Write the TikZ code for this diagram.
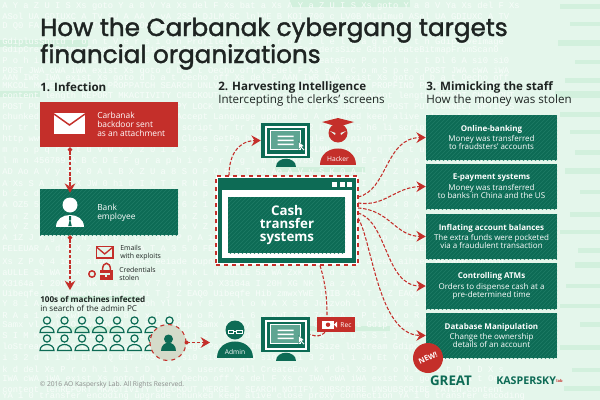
\documentclass[tikz,border=0pt]{standalone}
\usepackage{fontspec}
\setmainfont{Open Sans}
\setmonofont{Liberation Mono}
\newfontfamily\titlefont[FakeBold=1.6]{Poppins}
\usetikzlibrary{arrows.meta,calc,patterns}
\definecolor{paper}{HTML}{E4F6EB}
\definecolor{glyph}{HTML}{F8FDFA}
\definecolor{band}{HTML}{D2F0DD}
\definecolor{teal}{HTML}{0D6B55}
\definecolor{tealhatch}{HTML}{1F7C66}
\definecolor{tealsoft}{HTML}{5FA592}
\definecolor{alert}{HTML}{C42F2A}
\definecolor{ink}{HTML}{1E2422}
\newcommand{\px}{.75pt}
\tikzset{
	tealbox/.style={fill=teal,postaction={pattern=north east lines,pattern color=tealhatch},inner sep=0pt},
	redbox/.style={fill=alert,inner sep=0pt},
	infotext/.style={text=white,align=center,font=\fontsize{6}{6.1}\selectfont,inner sep=0pt},
	lefttext/.style={align=left,anchor=west,inner sep=0pt,text=ink},
	titletext/.style={anchor=base west,inner sep=0pt,text=ink,font=\fontsize{18.5}{20}\titlefont},
	stepnote/.style={lefttext,font=\fontsize{8.7}{10}\selectfont},
	smallnote/.style={lefttext,font=\fontsize{5.2}{6.2}\selectfont},
	redlink/.style={alert,thick,dashed,dash pattern=on 2.6pt off 1.3pt},
	tipped/.style={redlink,-{Stealth[length=7pt,width=8pt,inset=2.4pt,sep=0pt]}},
	dotted start/.style={{Circle[length=3.4pt]}-{Stealth[length=7pt,width=8pt,inset=2.4pt]}},
	staff/.pic={
		\draw[teal,line width=.9pt] (0,-4.5) circle (3.6);
		\draw[teal,line width=.9pt] (-7,7.5) .. controls (-7,-.5) and (7,-.5) .. (7,7.5) -- cycle;
	},
}
\newcommand{\screenicon}[1]{
	\begin{scope}[shift={(#1.center)}]
		\fill[white] (-21,-15) rectangle (21,15);
		\fill[teal] (-19,-13) rectangle (19,13);
		\fill[tealsoft,draw=white,line width=.8pt] (-15,-10) rectangle (15,9);
		\fill[white] (-8,-5) rectangle (8,-3.4) (-8,-1) rectangle (8,.6) (-8,3) rectangle (8,4.6);
		\fill[white,draw=teal,line width=.2pt] (13,1) -- (13,9) -- (15,7) -- (18,10) -- (19,9) -- (16.5,6.3) -- (18.5,5.5) -- cycle;
		\fill[teal] (-10,26) .. controls (-10,15.5) and (10,15.5) .. (10,26) -- cycle;
	\end{scope}
}
\begin{document}
\begin{tikzpicture}[x=\px,y=-\px]
	\useasboundingbox (0,0) rectangle (600,400);
	% background
	\fill[paper] (0,0) rectangle (600,400);
	\foreach \bandy/\bandx/\bandw/\bandh in {0/290/120/7, 40/0/88/7, 91/0/40/6, 167/275/90/5, 296/60/80/6, 326/70/50/6, 326/300/90/5}
		\fill[band] (\bandx,\bandy) rectangle ++(\bandw,\bandh);
	\foreach \liney/\linetext [count=\linei] in {
		6/A Y a Z U I S Xs goto Y a 8 V Ya Xs del F Xs bat a Xs A Y a Z U I S Xs goto Y a 8 V Ya Xs del F Xs,
		16/ASol UA GDIUXC A TV 9U A AA A vA 2SSC DJLM SC lnlME B KOI 700 c LV0B MLuImu0 ASol UA GDIUXC A TV,
		26/D Q0 FA TOTxH Y WTxHnP ZG OK xG NK 8 1Z2A z z5v0i A A U RS 8 n H C D Q0 FA TOTxH Y WTxHnP ZG OK,
		42/GdiplusShutd r o n t V e r s i o n Profilelist Xs P r o f i l e l m a g e P a t h GdipSaveImage,
		50/GdipCreateBitmapFromScan0 GdipSaveImageToStream GetImageEncodersSize GdipCreateBitmapFromScan0,
		60/P o h i b i t Dl 6 A si0 si0 6A si0 si0 si0 A userenv dll CreateEnv P o h i b i t Dl 6 A si0 si0,
		71/POST JWA cWA iWA exist Xs goto d b a t Oecho off Xs del F Xs c Xs C o m S p e c POST JWA cWA iWA,
		78/AAN IWR IWA exist Xs goto d b a t Oecho off Xs del F AAN IWR IWA exist Xs goto d b a t Oecho off,
		86/MKCOL MOVE PROPFIND PROPPATCH SEARCH UNLVA DELETE GET HEAD MKCOL MOVE PROPFIND PROPPATCH SEARCH,
		96/content length REPORT MKACTIVITY CHECKOUT Transfer Encoding Accept content length REPORT CHECKOUT,
		107/POST PUT CONNECT OPTIONS TRACE COPY LOCK MERGE M SEARCH NOTIFY SUBSCRIBE POST PUT CONNECT OPTIONS,
		117/chunked keep alive close A A A A Accept Language upgrade U A chunked keep alive close A A A A,
		128/hr tr td div h1 h2 h3 h4 h5 h6 li script hr tr td div h1 h2 h3 h4 h5 h6 li script hr tr td div,
		139/http www google com ping HTTP 1 1 Close GetPa http www google com ping HTTP 1 1 Close GetPa http,
		150/m n o p q r s t u v w x y z 0 1 2 3 4 5 6 7 8 9 ABCDEFGHIJKLMN m n o p q r s t u v w x y z 0 1 2,
		161/l m n 456789 A B C D E F g r a p h i c P r o g l m n 456789 A B C D E F g r a p h i c P r o g,
		172/AD Ao A V y S K 0 A L B X Z U a 8 S O P Q R S T AD Ao A V y S K 0 A L B X Z U a 8 S O P Q R S T,
		183/A Xs S A Ji A X JW 0 hi D I N T E R N E T A Xs S A Ji A X JW 0 hi D I N T E R N E T A Xs S A Ji,
		194/b 2 c d a f 9 B A W J X K 8 1 k m n o p Q R b 2 c d a f 9 B A W J X K 8 1 k m n o p Q R b 2 c d,
		205/A OZ5 5 j a B 9 Y A J S X 0 9 4 8 6 2 1 t Y A OZ5 5 j a B 9 Y A J S X 0 9 4 8 6 2 1 t Y A OZ5 5,
		216/r n Z o U S 2 A c V D a d B 3 M r n Z o U S 2 A c V D a d B 3 M r n Z o U S 2 A c V D a d B 3 M,
		227/x V Z o n k 0 r a g K A M A 7 3 L x V Z o n k 0 r a g K A M A 7 3 L x V Z o n k 0 r a g K A M,
		238/A 1Z J K g H A N B 8 6 V C s d O P p A 1Z J K g H A N B 8 6 V C s d O P p A 1Z J K g H A N B 8 6,
		249/FELEUAR A d S X Z Y a g 1 A T A 3 5 8 FELEUAR A d S X Z Y a g 1 A T A 3 5 8 FELEUAR A d S X Z Y,
		262/Xs Z P Q 4 ieoa aleed aihtee eeiade Oupntb Qu0 Uiiim Xs Z P Q 4 ieoa aleed aihtee eeiade Oupntb,
		272/aULLE 5a WA ZxK n i d a e A F O 3 H k L N aULLE 5a WA ZxK n i d a e A F O 3 H k L N aULLE 5a WA,
		283/X3164a I 20H XG NK Y a z A V 7 6 N R C b X3164a I 20H XG NK Y a z A V 7 6 N R C b X3164a I 20H,
		294/Uibeqfe Hib zmwxYWE IHIB X4i T j Z EAQ0 Uibeqfe Hib zmwxYWE IHIB X4i T j Z EAQ0 Uibeqfe Hib,
		304/Y 8 i A l o N A X S 6 Juqzvoh Yl b w Y 8 i A l o N A X S 6 Juqzvoh Yl b w Y 8 i A l o N A X S 6,
		316/R A a 1 6 x KwI I S 7e 8 A x P t g w o R A a 1 6 x KwI I S 7e 8 A x P t g w o R A a 1 6 x KwI I,
		325/Samx vl Pyl xO vwxcOd 0 31 B Ji Gdip Samx vl Pyl xO vwxcOd 0 31 B Ji Gdip Samx vl Pyl xO vwxcOd,
		336/S I M K d a 1 W Gw8 w W i 0 u S S 1 j S I M K d a 1 W Gw8 w W i 0 u S S 1 j S I M K d a 1 W Gw8,
		347/loStream GdipCreateBitmapFromGdi Image Path GetImageEncodersSize loStream GdipCreateBitmapFromGdi,
		358/i 3 2 d l i Ju Et Y Q GET POST JA si0 si0 6A si0 si0 6A i 3 2 d l i Ju Et Y Q GET POST JA si0,
		369/k d del Xs P r o h i b i t D l D X s userenv dll CreateEnv k d del Xs P r o h i b i t D l D X s,
		379/IWA cWA iWA exist Xs goto d b a t Oecho off Xs del F Xs c IWA cWA iWA exist Xs goto d b a t Oecho,
		389/content lenREPORT MKACTIVITY CHECKOUT MERGE M SEARCH NOTIFY SUBSCRIBE UNSUBSCRIBE PATCH content,
		396/YA 1 0 transfer encoding upgrade chunked keep alive close proxy connection YA 1 0 transfer encoding
	}
		\node[anchor=west,inner sep=0pt,text=glyph,font=\ttfamily\fontsize{6.6}{7}\selectfont] (bgline\linei) at (2,\liney) {\linetext};
	\foreach \bandy/\bandw/\bandh in {4/40/5, 22/30/4, 40/42/6, 60/25/4, 78/35/5, 91/45/7, 112/40/5, 130/30/4, 150/25/5, 168/35/6, 190/20/4, 212/30/5, 230/40/4, 248/22/5, 262/25/6, 284/34/4, 304/40/4, 322/20/5, 345/40/5, 368/28/4, 386/36/5}
		\fill[band] (600-\bandw,\bandy) rectangle ++(\bandw,\bandh);

	% headings
	\node[titletext] (titleone) at (40,36) {How the Carbanak cybergang targets};
	\node[titletext] (titletwo) at (40,63) {financial organizations};
	\node[stepnote] (stepone) at (40,87.5) {\bfseries 1. Infection};
	\node[stepnote] (steptwo) at (218,87.5) {\bfseries 2. Harvesting Intelligence};
	\node[stepnote] (steptwosub) at (218,100) {Intercepting the clerks' screens};
	\node[stepnote] (stepthree) at (426,87.5) {\bfseries 3. Mimicking the staff};
	\node[stepnote] (stepthreesub) at (426,100) {How the money was stolen};

	% column one
	\node[redbox,minimum width=138*\px,minimum height=45*\px] (backdoor) at (109,124.5) {};
	\fill[white] (54,113) rectangle (85,134);
	\draw[alert,line width=1.1pt] (54,114) -- (69.5,125) -- (85,114);
	\node[lefttext,text=white,font=\fontsize{6.3}{6.8}\selectfont] (backdoortext) at (97,124) {Carbanak\\backdoor sent\\as an attachment};
	\node[tealbox,minimum width=138*\px,minimum height=46*\px] (employee) at (109,212) {};
	\fill[white] (70,205) circle (7.5);
	\fill[white] (56,227) .. controls (56,211) and (84,211) .. (84,227) -- cycle;
	\fill[teal] (69,216) rectangle (71,220) (70,219) -- (71.8,226) -- (68.2,226) -- cycle;
	\node[lefttext,text=white,font=\fontsize{6.3}{6.8}\selectfont] (employeetext) at (97,212.5) {Bank\\employee};
	\coordinate (backdoorout) at (backdoor.south -| 70,0);
	\coordinate (employeein) at (employee.north -| 70,0);
	\coordinate (employeeout) at (employee.south -| 70,0);
	\coordinate (machinesin) at (70,290);
	\draw[tipped,dotted start] (backdoorout) -- ($(employeein)+(0,4)$);
	\draw[tipped,dotted start] (employeeout) -- (machinesin);

	\draw[alert,line width=1pt,fill=paper] (96.5,246.5) rectangle (113,258);
	\draw[alert,line width=1pt] (96.5,247) -- (104.7,254) -- (113,247);
	\node[smallnote] (exploits) at (120,252.5) {Emails\\with exploits};
	\fill[alert] (100,270) rectangle (113,280);
	\draw[alert,line width=1.1pt] (102.5,270) .. controls (102.5,261) and (110.5,261) .. (110.5,270);
	\draw[alert,line width=1.1pt,fill=paper] (92,274) circle (3.2);
	\draw[paper,line width=.8pt] (96,274) -- (110,274) (106,274) -- (106,277);
	\node[smallnote] (stolen) at (119,274) {Credentials\\stolen};
	\node[lefttext,font=\fontsize{6.1}{7}\bfseries\selectfont] (machines) at (40,299) {100s of machines infected};
	\node[lefttext,font=\fontsize{6.1}{7}\selectfont] (search) at (40,308) {in search of the admin PC};

	\foreach \staffx in {47,64.5,82,99.5,117,134.5,152,169.5}
		\pic at (\staffx,325) {staff};
	\foreach \staffx in {47,64.5,82,99.5,117,134.5,152}
		\pic at (\staffx,343) {staff};
	\node[circle,fill=black!6!paper!88!brown,draw=alert,thick,dashed,minimum size=36*\px,inner sep=0pt] (adminpc) at (168,342.5) {};
	\fill[teal] (168.5,339) circle (4.5);
	\fill[teal] (161,351) .. controls (161,340) and (176,340) .. (176,351) -- cycle;
	\node[lefttext,text=black!45,font=\fontsize{5}{6}\selectfont] (copyright) at (39.5,384.5) {© 2016 AO Kaspersky Lab. All Rights Reserved.};

	% column two
	\node[inner sep=0pt,draw=alert,thick,dashed,fill=white,minimum width=142*\px,minimum height=89*\px] (cashwindow) at (287,220.5) {};
	\fill[teal] (218,178) rectangle (356,263);
	\fill[white] (222,190) rectangle (352,258);
	\foreach \dotx in {334,342,349}
		\fill[white] (\dotx-2.5,181.5) rectangle (\dotx+2.5,186.5);
	\node[tealbox,minimum width=117*\px,minimum height=56*\px] (cashcore) at (286.5,225) {};
	\node[text=white,align=center,inner sep=0pt,font=\fontsize{10}{10}\selectfont] (cashtext) at (287,225) {\textbf{Cash}\\\textbf{transfer}\\\textbf{systems}};

	\node[fill=teal,inner sep=0pt,minimum width=49*\px,minimum height=35*\px] (clerkscreen) at (285.5,140.5) {};
	\screenicon{clerkscreen}
	\node[fill=teal,inner sep=0pt,minimum width=49*\px,minimum height=35*\px] (adminscreen) at (285.5,334.5) {};
	\screenicon{adminscreen}

	\node[circle,fill=alert,minimum size=19*\px,inner sep=0pt] (hackerhead) at (338,133) {};
	\fill[alert] (322,122) -- (338,118) -- (354,122) -- (338,127) -- cycle;
	\fill[paper] (330,131) -- (335.5,133) -- (335,135) -- cycle (346,131) -- (340.5,133) -- (341,135) -- cycle;
	\fill[alert] (320,165) .. controls (320,143) and (356,143) .. (356,165) -- cycle;
	\node[text=white,inner sep=0pt,font=\fontsize{5}{6}\selectfont] (hackerlabel) at (338,158.5) {Hacker};

	\node[circle,fill=teal,minimum size=19*\px,inner sep=0pt] (adminhead) at (235,330) {};
	\draw[white,line width=.7pt] (228,330) rectangle (233.5,333) (236.5,330) rectangle (242,333) (233.5,331) -- (236.5,331);
	\fill[teal] (217,358) .. controls (217,336) and (253,336) .. (253,358) -- cycle;
	\node[text=white,inner sep=0pt,font=\fontsize{5}{6}\selectfont] (adminlabel) at (235,352) {Admin};

	\node[redbox,minimum width=38*\px,minimum height=15*\px] (recbox) at (336,324.5) {};
	\fill[white] (322,321) rectangle (334,328.5);
	\fill[white] (334,324.5) -- (337,321.5) -- (337,327.5) -- cycle;
	\fill[alert] (328,324.7) circle (2.2);
	\node[text=white,inner sep=0pt,font=\fontsize{5}{6}\selectfont] (reclabel) at (346,325) {Rec};

	\coordinate (cashup) at (cashwindow.north -| 229,0);
	\coordinate (cashrec) at (cashwindow.south -| 320,0);
	\coordinate (recin) at (recbox.north -| 327,0);
	\coordinate (recout) at (recbox.south -| 325,0);
	\coordinate (admintip) at (210,342.5);
	\draw[tipped] (cashup) .. controls (229,158) and (236,141) .. (clerkscreen.west);
	\draw[redlink] (cashrec) .. controls (326,285) and (327,300) .. (recin);
	\draw[redlink] (recout) .. controls (322,336) and (316,337) .. (adminscreen.east);
	\fill[alert] (adminpc.east) circle (2);
	\draw[tipped] (adminpc.east) -- (admintip);

	% column three
	\node[tealbox,minimum width=131*\px,minimum height=45*\px] (onlinebox) at (491.5,137.5) {};
	\node[tealbox,minimum width=131*\px,minimum height=45*\px] (epaybox) at (491.5,186.5) {};
	\node[tealbox,minimum width=131*\px,minimum height=45*\px] (inflatebox) at (491.5,236.5) {};
	\node[tealbox,minimum width=131*\px,minimum height=46*\px] (atmbox) at (491.5,286) {};
	\node[tealbox,minimum width=131*\px,minimum height=45*\px] (databox) at (491.5,335.5) {};
	\node[infotext] at (491.5,137.5) (onlinetext) {\textbf{Online-banking}\\[1.8pt]Money was transferred\\to fraudsters' accounts};
	\node[infotext] at (491.5,186.5) (epaytext) {\textbf{E-payment systems}\\[1.8pt]Money was transferred\\to banks in China and the US};
	\node[infotext] at (491.5,236.5) (inflatetext) {\textbf{Inflating account balances}\\[1.8pt]The extra funds were pocketed\\via a fraudulent transaction};
	\node[infotext] at (491.5,286) (atmtext) {\textbf{Controlling ATMs}\\[1.8pt]Orders to dispense cash at a\\pre-determined time};
	\node[infotext] at (491.5,335.5) (datatext) {\textbf{Database Manipulation}\\[1.8pt]Change the ownership\\details of an account};

	\coordinate (cashout1) at (358,197);
	\coordinate (cashout2) at (358,203);
	\coordinate (cashout3) at (358,208);
	\coordinate (cashout4) at (358,213);
	\coordinate (cashout5) at (358,218);
	\draw[tipped] (cashout1) .. controls (388,190) and (385,138) .. (onlinebox.west);
	\draw[tipped] (cashout2) .. controls (385,207) and (395,187) .. (epaybox.west);
	\draw[tipped] (cashout3) .. controls (390,210) and (395,236) .. (inflatebox.west);
	\draw[tipped] (cashout4) .. controls (388,222) and (385,286) .. (atmbox.west);
	\draw[tipped] (cashout5) .. controls (372,240) and (378,335) .. (databox.west);

	\node[circle,fill=alert,minimum size=30*\px,inner sep=0pt,text=white,font=\fontsize{5.6}{6}\bfseries\selectfont] (newbadge) at (428,358) {\rotatebox{25}{NEW!}};
	\node[inner sep=0pt,text=teal,font=\fontsize{10}{12}\bfseries\selectfont] (greatlogo) at (451,381) {GREAT};
	\node[inner sep=0pt,text=teal,anchor=west,font=\fontsize{8}{12}\bfseries\selectfont] (kasperskylogo) at (496,381) {KASPERSKY};
	\node[inner sep=0pt,text=alert,anchor=west,font=\fontsize{3}{3}\bfseries\selectfont] (lablogo) at (kasperskylogo.east) {lab};
\end{tikzpicture}
\end{document}
